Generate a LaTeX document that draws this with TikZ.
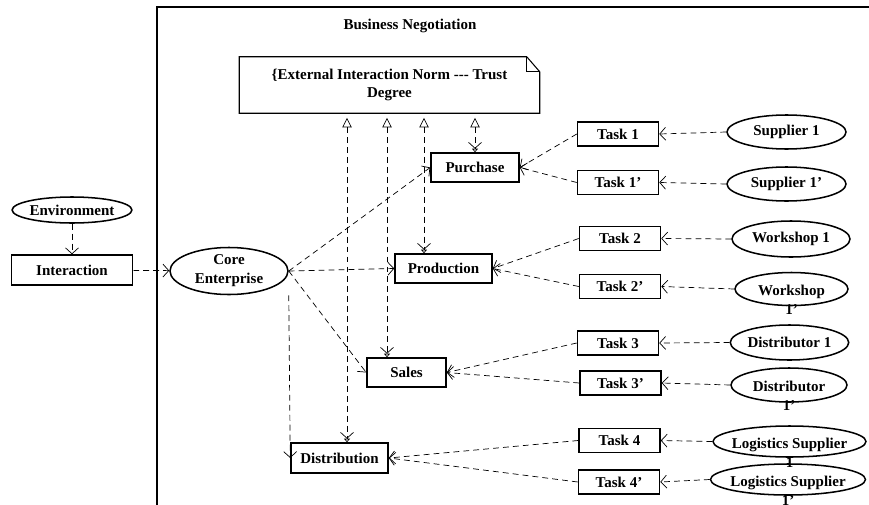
\documentclass[tikz,border=0pt]{standalone}
\usepackage{fontspec}
\setmainfont{Liberation Serif}
\usetikzlibrary{calc,positioning,arrows.meta,shapes}

\begin{document}
\begin{tikzpicture}[x=0.03cm, y=-0.03cm, font=\fontsize{12.8}{16}\selectfont\bfseries,
  dep/.style={line width=0.6pt, dash pattern=on 5pt off 3.5pt, -{Straight Barb[length=5pt,width=11pt]}},
  norm/.style={line width=0.6pt, dash pattern=on 5pt off 3.5pt, shorten <=4pt,
    {Triangle[open,length=8pt,width=8pt]}-{Straight Barb[length=5pt,width=11pt] Triangle[open,length=3pt,width=5pt]}},
  wrapped/.style={label={[align=center,yshift=-0.33cm]center:#1}}]
\tikzstyle{box}=[draw, line width=1.3pt, inner sep=2pt, minimum height=0.87cm]
\tikzstyle{task}=[box, minimum width=2.43cm, minimum height=0.72cm]
\tikzstyle{actor}=[ellipse, draw, line width=1.3pt, inner sep=0pt, minimum width=3.54cm, minimum height=1.02cm]
\useasboundingbox (0,0) rectangle (869,504);
% system boundary
\draw[line width=1.5pt] (157,530) -- (157,7) -- (890,7);
\node (title) at (410,26) {Business Negotiation};
% norm note
\node[minimum width=9cm, minimum height=1.68cm, align=center] (note) at (389.5,85) {\{External Interaction Norm -\kern0pt-\kern0pt- Trust\\Degree};
\draw[line width=0.9pt] (note.south west) -- (note.north west) -- ([xshift=-0.39cm]note.north east) -- ([yshift=-0.45cm]note.north east) -- (note.south east) -- cycle;
\draw[line width=0.9pt] ([xshift=-0.39cm]note.north east) |- ([yshift=-0.45cm]note.north east);
% left side
\node[actor, minimum width=3.57cm, minimum height=0.78cm] (env) at (72,210) {Environment};
\node[box, minimum width=3.63cm, minimum height=0.9cm] (inter) at (72,270) {Interaction};
\node[actor, align=center, minimum height=1.41cm] (core) at (229,271) {Core\\Enterprise};
% activities
\node[box, minimum width=2.64cm] (pur) at (475,167.5) {Purchase};
\node[box, minimum width=2.91cm] (prod) at (443.5,268.5) {Production};
\node[box, minimum width=2.37cm] (sales) at (406.5,372.5) {Sales};
\node[box, minimum width=2.91cm, minimum height=0.9cm] (dist) at (339.5,458) {Distribution};
% tasks
\node[task] (t1) at (618,134) {Task 1};
\node[task] (t1p) at (618,182.5) {Task 1'};
\node[task] (t2) at (620,238.5) {Task 2};
\node[task] (t2p) at (620,286.5) {Task 2'};
\node[task] (t3) at (618,343) {Task 3};
\node[task] (t3p) at (620.5,383) {Task 3'};
\node[task] (t4) at (619.5,440.5) {Task 4};
\node[task] (t4p) at (619,482) {Task 4'};
% partners
\node[actor, minimum width=3.57cm] (s1) at (786.5,132) {Supplier 1};
\node[actor, minimum width=3.57cm] (s1p) at (786.5,184) {Supplier 1'};
\node[actor, minimum height=1.08cm] (w1) at (791,239) {Workshop 1};
\node[actor, minimum width=3.39cm, minimum height=0.99cm, wrapped={Workshop\\1'}] (w1p) at (791.5,289) {};
\node[actor, minimum width=3.51cm, minimum height=1.05cm] (d1) at (789.5,342.5) {Distributor 1};
\node[actor, minimum width=3.48cm, minimum height=1.02cm, wrapped={Distributor\\1'}] (d1p) at (789,385) {};
\node[actor, minimum width=4.59cm, minimum height=0.93cm, wrapped={Logistics Supplier\\1}] (l1) at (789.5,441.5) {};
\node[actor, minimum width=4.65cm, minimum height=0.93cm, wrapped={Logistics Supplier\\1'}] (l1p) at (788,479.5) {};
% connectors
\draw[dep] (env) -- (inter);
\draw[dep] (inter) -- (core);
\foreach \a in {pur,prod,sales}{\draw[dep] (core.east) -- (\a.west);}
\draw[dep] (core.east |- core.south) -- (dist.west);
\foreach \t/\a in {t1/pur,t1p/pur,t2/prod,t2p/prod,t3/sales,t3p/sales,t4/dist,t4p/dist}{\draw[dep] (\t.west) -- (\a.east);}
\foreach \s/\t in {s1/t1,s1p/t1p,w1/t2,w1p/t2p,d1/t3,d1p/t3p,l1/t4,l1p/t4p}{\draw[dep] (\s.west) -- (\t.east);}
\foreach \a/\dx in {pur/0,prod/-0.585,sales/-0.585,dist/0.225}{\draw[norm] ([xshift=\dx cm]\a.north |- note.south) -- ([xshift=\dx cm]\a.north);}
\end{tikzpicture}
\end{document}
